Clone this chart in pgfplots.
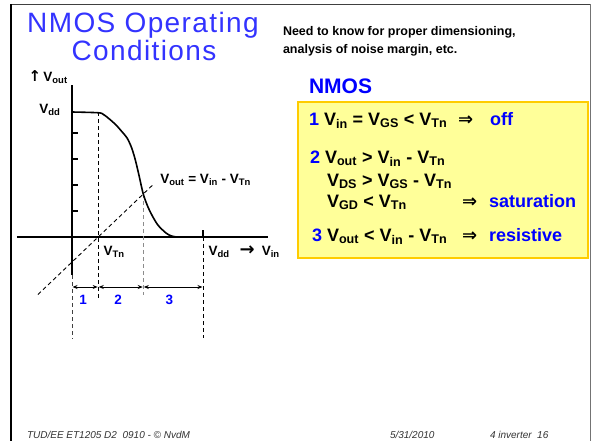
\documentclass[border=0pt]{standalone}
\usepackage{fontspec}
\setmainfont{Liberation Sans}
\setsansfont{Liberation Sans}
\newfontfamily\titlefont[LetterSpace=5]{Liberation Sans}
\newfontfamily\dejavu{DejaVu Sans}
\usepackage{pgfplots}
\pgfplotsset{compat=1.18}
\usetikzlibrary{arrows.meta}
\definecolor{titleblue}{RGB}{51,51,255}
\definecolor{kblue}{RGB}{0,0,255}
\definecolor{boxfill}{RGB}{255,255,153}
\definecolor{boxline}{RGB}{255,204,0}
\newcommand{\fs}[1]{\fontsize{#1}{#1}\selectfont}
\newcommand{\sub}[1]{\textsubscript{#1}}
\newcommand{\imp}{{\dejavu\bfseries ⇒}}
\newcommand{\uparr}{{\dejavu\bfseries\fs{15}↑}}
\newcommand{\rarr}{{\dejavu\bfseries\fs{18}→}}
\tikzset{
  lbl/.style={font=\fs{13.5}\bfseries},
  dsh/.style={line width=0.9pt,dash pattern=on 4pt off 3pt},
  dbl/.style={{Stealth[length=5pt,width=4pt]}-{Stealth[length=5pt,width=4pt]},line width=0.8pt},
}

\begin{document}
\begin{tikzpicture}
% slide frame and text, in pixel units measured from the top left
\begin{scope}[x=1pt,y=-1pt,every node/.style={inner sep=0pt,outer sep=0pt}]
  \fill[white] (0,0) rectangle (593,441);
  \draw[black!75,line width=1.3pt] (10,4.5) -- (590.5,4.5);
  \draw[black!55,line width=1pt] (590.5,4) -- (590.5,441);
  \draw[black,line width=2pt] (11,4) -- (11,441);
  % title
  \node[anchor=base,font=\titlefont\fs{28},text=titleblue] at (143,32) {NMOS Operating};
  \node[anchor=base,font=\titlefont\fs{28},text=titleblue] at (144,60) {Conditions};
  % remark
  \node[anchor=base west,font=\fs{12.5}\bfseries] at (283,35) {Need to know for proper dimensioning,};
  \node[anchor=base west,font=\fs{12.5}\bfseries] at (283,53) {analysis of noise margin, etc.};
  \node[anchor=base west,font=\fs{21}\bfseries,text=kblue] at (309,93) {NMOS};
  % regions box
  \draw[boxline,fill=boxfill,line width=2pt] (298,102) rectangle (588,258);
  \begin{scope}[every node/.append style={anchor=base west,font=\fs{18}\bfseries}]
    \node at (309,125) {\textcolor{kblue}{1} V\sub{in} = V\sub{GS} < V\sub{Tn}};
    \node at (458,125) {\imp};
    \node[text=kblue] at (490,125) {off};
    \node at (310,163) {\textcolor{kblue}{2} V\sub{out} > V\sub{in} - V\sub{Tn}};
    \node at (327,186) {V\sub{DS} > V\sub{GS} - V\sub{Tn}};
    \node at (327,207) {V\sub{GD} < V\sub{Tn}};
    \node at (462,207) {\imp};
    \node[text=kblue] at (489,207) {saturation};
    \node at (312,241) {\textcolor{kblue}{3} V\sub{out} < V\sub{in} - V\sub{Tn}};
    \node at (462,241) {\imp};
    \node[text=kblue] at (489,241) {resistive};
  \end{scope}
  % footer
  \begin{scope}[every node/.append style={anchor=base west,font=\fs{10}\itshape,text=black!80}]
    \node at (27,438) {TUD/EE ET1205 D2\ \ 0910 - © NvdM};
    \node at (390,438) {5/31/2010};
    \node at (490,438) {4 inverter\ \ 16};
  \end{scope}
\end{scope}

% inverter transfer characteristic, Vdd = 5, VTn = 1
\begin{axis}[
  x=26.2pt, y=25pt,
  xmin=-2.2, xmax=7.6, ymin=-4.5, ymax=6.2,
  hide axis, clip=false,
  anchor=south west, at={(14.36pt,-349.5pt)},
  every node/.style={inner sep=0pt,outer sep=0pt},
]
  % axes and ticks
  \draw[line width=2.4pt] (axis cs:0,-1.52) -- (axis cs:0,6.08);
  \draw[line width=2.2pt] (axis cs:-2.1,0) -- (axis cs:7.48,0);
  \pgfplotsinvokeforeach{1.04,2.08,3.12,4.16}{
    \draw[line width=2.2pt] (axis cs:0,#1) -- (axis cs:0.24,#1);
  }
  \draw[line width=1.6pt] (axis cs:5,0) -- (axis cs:5,0.3);

  % Vout = Vin - VTn
  \addplot[black,dsh] coordinates {(-1.3,-2.3) (3.1,2.1)};

  % region boundaries
  \draw[dsh] (axis cs:1,5) -- (axis cs:1,-2.44);
  \draw[dsh,black!45] (axis cs:2.72,1.72) -- (axis cs:2.72,-2.32);
  \draw[dsh,black!75] (axis cs:0,-1.52) -- (axis cs:0,-4.05);
  \draw[dsh] (axis cs:5,0) -- (axis cs:5,-4.05);

  % transfer curve
  \addplot[black,line width=1.6pt,smooth] coordinates {
    (0,5.0) (1.0,4.97) (1.2,4.9) (1.45,4.7) (1.7,4.46) (1.9,4.22)
    (2.09,3.98) (2.25,3.64) (2.4,3.15) (2.55,2.5) (2.72,1.72)
    (2.9,1.2) (3.1,0.78) (3.3,0.45) (3.6,0.15) (3.8,0.04) (4.0,0.0)
  };

  % region widths
  \draw[dbl] (axis cs:0.02,-2) -- (axis cs:0.98,-2);
  \draw[dbl] (axis cs:1.02,-2) -- (axis cs:2.7,-2);
  \draw[dbl] (axis cs:2.74,-2) -- (axis cs:4.98,-2);
  \node[lbl,text=kblue] at (axis cs:0.42,-2.52) {1};
  \node[lbl,text=kblue] at (axis cs:1.76,-2.52) {2};
  \node[lbl,text=kblue] at (axis cs:3.72,-2.52) {3};

  % labels
  \node[lbl,anchor=east] at (axis cs:-0.31,5.08) {V\sub{dd}};
  \node[lbl,anchor=west] at (axis cs:-1.79,6.4) {\uparr\,V\sub{out}};
  \node[lbl,anchor=west] at (axis cs:1.07,-0.6) {V\sub{Tn}};
  \node[lbl,anchor=west] at (axis cs:5.08,-0.6) {V\sub{dd}\hspace{10pt}\rarr\hspace{7pt}V\sub{in}};
  \node[lbl,anchor=west] at (axis cs:3.24,2.28) {V\sub{out} = V\sub{in} - V\sub{Tn}};
\end{axis}
\end{tikzpicture}
\end{document}
